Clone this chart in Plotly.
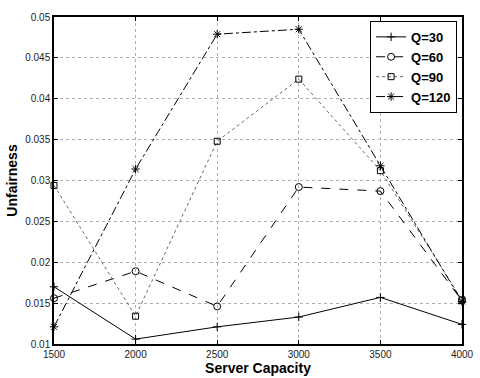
import plotly.graph_objects as go

capacity = [1500, 2000, 2500, 3000, 3500, 4000]
q30 = [0.0170, 0.0106, 0.0121, 0.0133, 0.0157, 0.0124]
q60 = [0.0156, 0.0189, 0.0146, 0.0292, 0.0287, 0.0153]
q90 = [0.0294, 0.0134, 0.0348, 0.0424, 0.0312, 0.0154]
q120 = [0.0121, 0.0314, 0.0479, 0.0485, 0.0318, 0.0152]

y_ticks = [0.01, 0.015, 0.02, 0.025, 0.03, 0.035, 0.04, 0.045, 0.05]
y_tick_text = ["0.01", "0.015", "0.02", "0.025", "0.03", "0.035", "0.04", "0.045", "0.05"]
x_ticks = [1500, 2000, 2500, 3000, 3500, 4000]

series = [
    ("Q=30", q30, "solid", "cross-thin-open", 6, "black"),
    ("Q=60", q60, "dash", "circle-open", 7, "black"),
    ("Q=90", q90, "dot", "square-open", 6, "#666666"),
    ("Q=120", q120, "dashdot", "asterisk-open", 7, "black"),
]

fig = go.Figure()
for name, vals, dash, sym, size, col in series:
    fig.add_trace(go.Scatter(
        x=capacity, y=vals, name="<b>" + name + "</b>", mode="lines+markers",
        line=dict(color=col, width=1, dash=dash),
        marker=dict(symbol=sym, size=size, color="black",
                    line=dict(color="black", width=1)),
        cliponaxis=False,
    ))

axis_common = dict(
    showline=True, linecolor="black", linewidth=1.5, mirror="ticks",
    ticks="inside", ticklen=4, tickcolor="black",
    showgrid=True, gridcolor="#b0b0b0", griddash="dot", gridwidth=1,
    zeroline=False, ticklabeloverflow="allow",
    tickfont=dict(family="Liberation Sans, Arial", size=10, color="#222222"),
)

fig.update_layout(
    width=480, height=378,
    margin=dict(l=54, r=6, t=17, b=31),
    paper_bgcolor="white", plot_bgcolor="white",
    xaxis=dict(range=[1500, 4000], tickvals=x_ticks,
               title=dict(text="<b>Server Capacity</b>", standoff=2,
                          font=dict(family="Liberation Sans, Arial", size=14, color="black")),
               **axis_common),
    yaxis=dict(range=[0.01, 0.05], tickvals=y_ticks, ticktext=y_tick_text,
               title=dict(text="<b>Unfairness</b>", standoff=4,
                          font=dict(family="Liberation Sans, Arial", size=14, color="black")),
               **axis_common),
    legend=dict(
        x=0.988, y=0.988, xanchor="right", yanchor="top",
        bgcolor="white", bordercolor="black", borderwidth=1,
        font=dict(family="Liberation Sans, Arial", size=13, color="black"),
        tracegroupgap=0, itemwidth=30,
    ),
    showlegend=True,
)

fig.write_html("out.html")
